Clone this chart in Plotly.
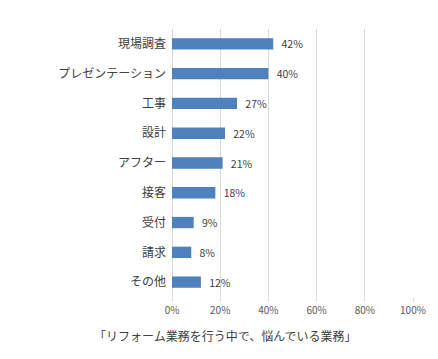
import plotly.graph_objects as go

categories = ["現場調査", "プレゼンテーション", "工事", "設計", "アフター", "接客", "受付", "請求", "その他"]
values = [42, 40, 27, 22, 21, 18, 9, 8, 12]
tick_vals = [0, 20, 40, 60, 80, 100]
tick_text = ["0%", "20%", "40%", "60%", "80%", "100%"]
title = "「リフォーム業務を行う中で、悩んでいる業務」"

font_family = "Noto Sans CJK JP"

fig = go.Figure(go.Bar(
    x=values,
    y=categories,
    orientation="h",
    marker=dict(color="#4F81BD", line=dict(width=0)),
    width=0.38,
    text=[f"\u2002{v}%" for v in values],
    textposition="outside",
    constraintext="none",
    textfont=dict(family=font_family, size=10.5, color="#404040"),
    cliponaxis=False,
))

# page body has an 8px default margin, so the figure is sized/offset to compensate
fig.update_layout(
    width=430, height=351,
    margin=dict(l=164, r=25, t=21, b=62),
    paper_bgcolor="white", plot_bgcolor="white",
    showlegend=False,
    font=dict(family=font_family, color="#404040"),
    xaxis=dict(
        range=[0, 100], tickvals=tick_vals, ticktext=tick_text,
        showgrid=True, gridcolor="#D9D9D9", gridwidth=1,
        zeroline=True, zerolinecolor="#D9D9D9", zerolinewidth=1,
        showline=False, ticks="outside", ticklen=3, tickcolor="#D9D9D9",
        ticklabelstandoff=1,
        tickfont=dict(family=font_family, size=10, color="#595959"),
        fixedrange=True, automargin=False,
    ),
    yaxis=dict(
        autorange="reversed", showgrid=False, zeroline=False, showline=False,
        ticks="", ticklabelstandoff=5,
        tickfont=dict(family=font_family, size=12, color="#404040"),
        fixedrange=True, automargin=False,
    ),
    annotations=[dict(
        text=title, xref="paper", yref="paper", x=0.224, y=-0.142,
        xanchor="center", yanchor="middle", showarrow=False,
        font=dict(family=font_family, size=12, color="#404040"),
    )],
)

fig.write_html("out.html")
